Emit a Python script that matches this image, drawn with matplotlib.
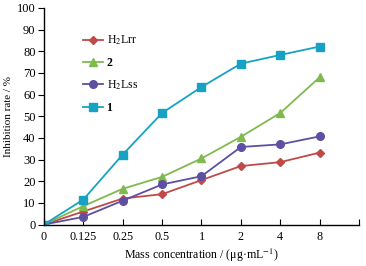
import numpy as np
import matplotlib
matplotlib.use('Agg')
import matplotlib.pyplot as plt

plt.rcParams['font.family'] = ['Liberation Serif', 'DejaVu Serif']
plt.rcParams['mathtext.fontset'] = 'stix'

# data
conc_labels = ['0', '0.125', '0.25', '0.5', '1', '2', '4', '8']
h2lrr = [0, 6, 12, 14, 20.5, 27, 28.8, 33.2]
cpd2 = [0, 8.5, 16.5, 22, 30.5, 40.5, 51.5, 68]
h2lss = [0, 3.5, 11, 18.5, 22.3, 35.8, 37, 40.7]
cpd1 = [0, 11.5, 32.3, 51.5, 63.5, 74.3, 78.3, 82.2]

series = [
    ('H$_2$Lrr', h2lrr, '#BE4B48', 'D', 4, 'normal'),
    ('2', cpd2, '#80BA4F', '^', 6, 'bold'),
    ('H$_2$Lss', h2lss, '#5E4FA2', 'o', 5.5, 'normal'),
    ('1', cpd1, '#17A2C4', 's', 5.5, 'bold'),
]

fig = plt.figure(figsize=(3.66, 2.66), dpi=100)
ax = fig.add_axes([0.12, 0.156, 0.861, 0.814])

x = np.arange(len(conc_labels))
for label, vals, color, marker, ms, weight in series:
    ax.plot(x, vals, color=color, marker=marker, markersize=ms, linewidth=1.3,
            label=label)

ax.set_xlim(0, len(conc_labels))
ax.set_ylim(0, 100)
ax.set_xticks(np.arange(len(conc_labels) + 1))
ax.set_xticklabels(conc_labels + [''])
ax.set_yticks(np.arange(0, 101, 10))

for side in ['top', 'right']:
    ax.spines[side].set_visible(False)
ax.spines['left'].set_linewidth(1.0)
ax.spines['bottom'].set_linewidth(1.0)
ax.tick_params(axis='x', direction='in', length=4, labelsize=8.7, pad=5)
ax.tick_params(axis='y', direction='out', length=4, labelsize=9, pad=2)

ax.set_xlabel('Mass concentration / (μg·mL$^{-1}$)', fontsize=8.6, labelpad=2)
ax.set_ylabel('Inhibition rate / %', fontsize=8, labelpad=3)

leg = ax.legend(loc='upper left', bbox_to_anchor=(0.09, 0.93), frameon=False,
                fontsize=8.5, handlelength=1.7, labelspacing=0.82,
                handletextpad=0.3)
for txt, s in zip(leg.get_texts(), series):
    txt.set_fontweight(s[5])

fig.savefig('out.png', dpi=100)
